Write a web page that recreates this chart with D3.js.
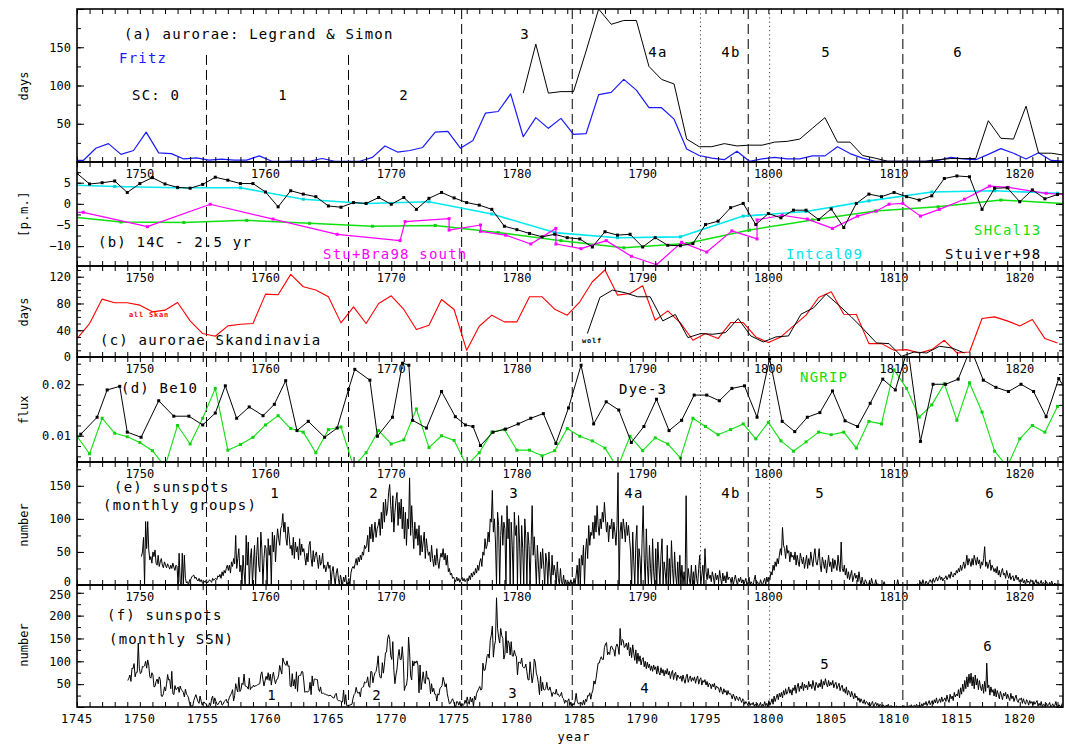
<!DOCTYPE html>
<html>
<head>
<meta charset="utf-8">
<script src="https://cdn.jsdelivr.net/npm/d3@7/dist/d3.min.js"></script>
<style>
  html, body { margin: 0; padding: 0; background: #fff; }
  svg { display: block; }
  text { font-family: "DejaVu Sans Mono", monospace; }
</style>
</head>
<body>
<svg id="chart" width="1065" height="745"></svg>
<script>
// ================= data =================

// (a) aurora days per year (plotted at mid-year)
const fritzStart = 1744;
const fritzDays = [2,2,18,24,10,15,39,12,11,4,5.5,2.5,3.7,2.4,2.4,8,1,1,1.5,1,4.6,1,1,1,6,21,13,15,19,39,40,18,28,64,66,89,33,58,44,57,36,37,88,91,108,94,71,71,56,17,8.5,5,3,14,1,4,6,4,4,8,8,20,11,5,1,1,1,1,1,2,6,4,3,10,17.5,11.5,4,12,2,1];
const legrandStart = 1780;
const legrandDays = [90,154,90,92,92,145,200,180,185,185,125,108,102,30,20,20,24,21,22,22,26,27,30,44,58,26,26,8.5,5,1,1,1,1,3,4.5,4.5,4.5,54,31,30,73,11.5,11.5,9];

// (b) 14C, per mille
const stuiverStart = 1745;
const stuiver98 = [7.2,4.7,5.0,5.4,2.7,4.8,6.2,4.7,3.9,3.7,4.6,6.3,5.6,4.8,4.8,2.8,-0.7,3.1,2.3,1.7,-0.5,-0.8,0.3,0.1,1.5,-0.1,1.5,-1.3,1.3,2.7,1.4,0.3,-0.3,-1.3,-5.3,-6.1,-7.0,-7.8,-7.2,-8.0,-8.3,-10.2,-6.6,-7.4,-7.2,-10.2,-8.0,-9.8,-9.9,-9.4,-4.9,-4.1,-0.9,0.1,-4.9,-2.3,-3.3,-1.5,-1.5,-3.7,-1.2,-5.6,0.1,2.3,1.7,2.7,1.7,0.9,1.9,6.0,6.6,6.4,-1.3,3.7,3.8,0.5,3.3,1.2,2.2];
const intcalYears = [1743,1748,1753,1758,1763,1768,1773,1778,1783,1788,1793,1798,1803,1808,1813,1818,1823];
const intcal09 = [4.6,4.1,3.8,3.8,1.1,0.1,0.5,-2.4,-6.8,-8.0,-7.8,-2.9,-1.8,0.7,2.8,3.1,2.5];
const shcalYears = [1743.5,1748.5,1753.5,1758.5,1763.5,1768.5,1773.5,1778.5,1783.5,1788.5,1793.5,1798.5,1803.5,1808.5,1813.5,1818.5,1823.5];
const shcal13 = [-2.8,-4.3,-4.4,-3.9,-4.6,-5.3,-5.1,-6.8,-8.7,-10.4,-9.4,-6.2,-3.8,-1.7,-0.7,0.9,0.1];
const stuBraYears = [1744.9,1745.5,1750.6,1755.6,1760.6,1765.7,1770.7,1771.1,1774.6,1774.6,1777.1,1777.1,1779.1,1781.1,1783.1,1783.1,1785.1,1787.1,1789.1,1791.1,1793.1,1795.1,1797.1,1799.1,1799.1,1801.1,1803.1,1805.1,1807.1,1808.6,1809.6,1810.7,1812.1,1813.6,1815.6,1817.6,1819.1,1822.1,1823.5];
const stuBraSouth = [-2.0,-2.0,-5.4,-0.1,-3.6,-7.2,-8.7,-4.2,-3.5,-6.2,-5.0,-6.5,-7.4,-9.5,-5.8,-9.5,-10.6,-8.7,-12.4,-14.4,-9.1,-11.4,-6.4,-8.3,-3.8,-2.7,-3.6,-5.8,-2.9,-1.7,-0.1,0.1,-2.9,-1.3,1.1,4.2,3.9,2.5,2.2];

// (c) aurora days in Scandinavia
const skanStart = 1745;
const allSkan = [27.5,50,86.5,81,81,77.5,67.5,70,81.5,54,35,31,46.5,49,50,94,93,123.5,105,100,90,51,75,50,80,91.5,71,41,47.5,86,71,10,46,62.5,52.5,52.5,90,90,71.5,62.5,82.5,112.5,130,92.5,95,106.5,55,69,51,25,35,27.5,51.5,51.5,30,21.5,30,46.5,62.5,89,97.5,64,63.5,20,20,10,11,6,11,25,6,7.5,57.5,60,54,46.5,56,27.5,21];
const wolfStart = 1785.6;
const wolfDays = [35,89,100,96,90,90,54,63.5,29,35,34,36.5,57.5,31.5,22.5,30,31.5,64,73.5,94,77.5,60,41,21,20,1,7.5,6,16,13.5,6];

// (d) Be10 flux
const dye3Years = [1745.3,1746.6,1747.4,1748.4,1749.0,1750.1,1751.5,1752.7,1753.9,1755.0,1756.0,1756.8,1757.7,1758.7,1759.8,1760.7,1761.6,1762.5,1763.4,1764.7,1765.7,1766.6,1767.1,1768.3,1768.9,1770.1,1770.9,1771.4,1771.7,1772.8,1774.0,1775.1,1775.9,1776.5,1777.1,1778.1,1779.1,1780.1,1781.1,1782.1,1783.1,1784.1,1785.1,1786.1,1787.1,1788.1,1789.1,1790.1,1791.1,1792.1,1793.1,1794.1,1795.1,1796.1,1797.1,1798.1,1799.1,1800.1,1801.1,1802.1,1803.1,1804.1,1805.1,1806.1,1807.1,1808.1,1809.1,1810.1,1811.1,1812.1,1813.1,1814.1,1815.1,1816.1,1817.1,1818.1,1819.1,1820.1,1821.1,1822.1,1823.1,1823.6];
const dye3Flux = [0.0103,0.0136,0.0189,0.0196,0.0107,0.0097,0.0168,0.0138,0.0138,0.0121,0.0144,0.0197,0.0134,0.0156,0.0139,0.0161,0.0207,0.0110,0.0128,0.0097,0.0115,0.0190,0.0229,0.0208,0.0099,0.0136,0.0241,0.0237,0.0130,0.0115,0.0186,0.0137,0.0121,0.0118,0.0081,0.0107,0.0113,0.0123,0.0134,0.0143,0.0085,0.0154,0.0237,0.0123,0.0166,0.0150,0.0087,0.0118,0.0171,0.0110,0.0130,0.0179,0.0179,0.0168,0.0192,0.0197,0.0136,0.0250,0.0128,0.0108,0.0136,0.0145,0.0187,0.0129,0.0118,0.0163,0.0210,0.0189,0.0270,0.0089,0.0200,0.0200,0.0210,0.0270,0.0208,0.0194,0.0186,0.0200,0.0186,0.0137,0.0211,0.0192];
const ngripStart = 1745;
const ngripFlux = [0.0099,0.0065,0.0134,0.0105,0.0098,0.0087,0.0071,0.0040,0.0120,0.0084,0.0134,0.0192,0.0072,0.0083,0.0097,0.0121,0.0139,0.0114,0.0107,0.0067,0.0112,0.0117,0.0040,0.0067,0.0110,0.0084,0.0092,0.0152,0.0077,0.0100,0.0091,0.0042,0.0067,0.0107,0.0112,0.0072,0.0072,0.0061,0.0071,0.0114,0.0099,0.0090,0.0076,0.0038,0.0099,0.0071,0.0096,0.0084,0.0057,0.0134,0.0118,0.0102,0.0112,0.0123,0.0094,0.0126,0.0090,0.0070,0.0088,0.0107,0.0102,0.0107,0.0076,0.0128,0.0123,0.0228,0.0192,0.0136,0.0160,0.0201,0.0130,0.0203,0.0146,0.0070,0.0040,0.0094,0.0120,0.0107,0.0157];

// (e) monthly sunspot groups, one row per year from 1750
const groupsStart = 1750;
const groupsMonthly = [
[null,43,50,72,0,96,55,96,53,38,43,33],
[50,43,53,33,30,45,28,35,40,30,26,35],
[30,26,32,28,24,30,25,33,27,22,30,28],
[0,48,5,0,48,0,45,10,3,5,0,8],
[8,12,14,15,10,12,8,6,10,5,8,4],
[2,6,4,8,3,5,8,6,4,10,7,9],
[10,8,14,12,16,10,20,14,22,18,25,30],
[22,30,18,35,28,40,32,75,25,40,55,20],
[30,0,45,20,0,75,30,65,0,40,55,0],
[35,60,0,45,72,30,20,80,55,0,40,60],
[55,0,70,45,60,0,80,50,75,35,65,85],
[70,60,85,90,108,80,95,70,60,88,75,55],
[60,45,72,40,65,50,58,38,70,45,62,50],
[55,42,30,48,35,60,66,40,28,52,35,45],
[50,38,25,45,30,35,48,25,30,20,28,35],
[25,30,0,20,28,12,0,18,25,10,0,15],
[8,0,12,5,15,0,3,10,0,18,25,28],
[25,32,40,30,42,35,45,38,50,45,60,55],
[60,75,50,88,70,92,65,80,95,72,85,90],
[100,75,110,85,125,95,130,105,115,140,152,120],
[95,135,80,110,128,140,90,125,100,130,85,118],
[70,110,60,100,85,162,75,120,85,55,95,70],
[85,60,90,45,75,50,65,80,40,70,55,45],
[50,35,60,40,28,45,30,55,35,25,40,48],
[42,55,38,48,30,45,20,25,15,18,10,12],
[8,5,12,6,10,4,8,12,6,10,5,8],
[10,6,14,8,18,12,20,15,25,18,30,22],
[35,40,28,50,45,70,55,60,80,65,100,95],
[143,80,100,65,0,110,90,0,75,105,60,95],
[85,0,120,70,100,0,95,60,0,110,75,90],
[0,105,65,0,90,55,0,100,70,0,80,60],
[0,60,120,45,73,40,0,60,30,0,50,25],
[55,30,0,48,35,0,50,20,0,45,15,30],
[20,0,35,10,0,25,5,0,15,0,8,0],
[0,5,0,8,0,0,10,0,15,30,0,40],
[0,45,30,60,0,50,70,40,90,60,80,75],
[95,70,105,80,120,90,75,100,85,110,95,125],
[100,80,95,65,90,85,100,70,95,80,60,90],
[170,0,80,95,70,100,85,65,95,75,90,70],
[50,0,80,35,0,65,90,0,55,40,0,70],
[120,40,0,85,30,0,60,25,0,70,20,0],
[55,0,65,30,0,45,70,0,35,20,0,60],
[0,40,0,67,25,0,50,15,0,35,0,45],
[0,30,0,20,0,135,0,25,10,0,30,0],
[20,0,30,10,0,25,45,0,15,30,0,55],
[20,8,25,10,15,5,20,12,0,18,8,15],
[5,22,10,0,18,6,14,3,20,8,12,10],
[4,12,0,8,15,6,0,10,5,12,3,8],
[0,5,10,0,3,12,0,5,2,0,8,15],
[0,5,2,0,8,3,0,6,10,0,12,5],
[12,8,20,15,30,22,35,28,40,32,45,55],
[45,87,60,55,40,60,48,52,35,50,42,45],
[38,50,30,45,35,28,48,40,32,42,25,35],
[45,25,40,30,50,38,28,45,55,35,30,40],
[55,30,20,42,35,25,38,18,30,45,28,35],
[20,40,25,38,30,22,45,30,20,65,25,20],
[30,15,25,10,20,8,15,22,5,12,18,10],
[15,5,20,8,0,12,3,0,8,5,0,0],
[5,0,10,3,0,0,8,0,2,0,0,0],
[0,0,5,0,0,0,0,0,0,0,0,0],
[0,0,0,8,0,0,0,0,0,0,0,0],
[0,0,0,0,0,0,0,0,0,0,2,0],
[0,5,0,8,2,0,6,3,0,5,8,4],
[6,10,4,8,12,6,10,14,8,12,6,10],
[10,14,8,12,16,10,20,14,12,18,15,22],
[18,25,20,30,22,28,35,25,32,45,30,40],
[35,28,40,30,45,38,30,42,32,38,25,35],
[30,40,58,28,35,25,32,38,22,30,26,20],
[25,18,28,15,22,12,20,25,15,18,10,22],
[15,10,18,8,12,14,6,10,15,8,12,5],
[8,5,10,3,7,0,9,4,6,2,8,5],
[6,0,4,8,2,5,0,3,7,0,4,2],
[0,5,2,0,4,0,6,1,0,3,0,2],
[0,2,0,1,0]
];

// (f) monthly sunspot number, one row per year from 1749
const ssnStart = 1749;
const ssnMonthly = [
[58,63,70,56,85,84,95,66,76,76,140,85],
[73,76,89,88,90,100,85,103,91,66,63,75],
[70,44,45,56,61,51,66,60,24,23,29,44],
[35,50,71,59,60,40,78,29,27,47,38,40],
[44,32,46,38,36,32,22,39,28,25,20,7],
[0,3,2,14,21,27,19,12,8,24,13,4],
[10,11,7,7,0,0,9,3,18,24,7,20],
[13,7,5,9,13,13,4,6,12,14,17,9],
[14,21,26,30,38,13,25,51,40,33,65,34],
[38,52,49,72,46,45,44,39,63,38,43,43],
[48,44,47,47,49,50,51,71,77,60,46,57],
[67,60,75,58,72,48,66,76,61,51,60,61],
[70,91,81,72,107,99,94,91,101,89,90,46],
[44,73,46,60,40,77,34,68,69,69,78,77],
[57,32,34,33,33,36,54,27,68,46,61,61],
[60,60,40,34,44,30,30,30,28,28,26,26],
[24,26,25,22,20,20,27,30,16,14,14,13],
[12,11,37,6,27,3,3,4,4,5,6,19],
[27,30,43,33,30,33,22,41,43,44,55,53],
[54,66,46,43,78,77,53,67,75,78,91,112],
[74,64,64,97,74,94,119,120,149,158,148,112],
[104,143,80,51,70,83,110,126,104,104,132,102],
[36,46,47,65,153,120,68,59,101,90,100,96],
[101,91,31,92,38,57,77,56,51,79,61,64],
[55,29,51,33,41,28,28,13,29,26,41,43],
[47,65,56,44,51,29,18,7,8,14,18,12],
[4,0,12,11,4,12,1,8,3,6,15,8],
[22,12,6,22,11,19,1,24,16,30,35,40],
[45,37,39,96,80,81,95,112,116,107,146,157],
[177,109,134,145,239,172,153,140,172,156,150,105],
[115,166,118,145,140,114,143,112,111,124,114,110],
[70,98,98,95,107,88,86,86,94,77,60,59],
[99,75,53,68,105,98,74,66,51,27,67,35],
[54,38,37,41,54,38,37,44,34,23,32,30],
[28,39,27,28,23,25,32,20,18,8,15,11],
[13,18,3,11,2,8,4,13,30,13,7,8],
[9,10,4,15,5,17,12,25,24,31,17,30],
[37,57,50,62,79,96,96,104,110,104,104,130],
[138,141,114,120,115,132,133,126,125,111,132,138],
[131,115,172,135,148,145,130,133,140,125,141,112],
[130,108,136,118,102,125,95,118,100,112,92,104],
[108,88,100,84,98,86,94,80,90,78,92,82],
[88,72,90,76,70,86,74,82,68,80,72,84],
[70,78,62,74,80,60,72,76,58,70,66,62],
[68,56,70,60,52,66,72,54,62,68,56,64],
[58,66,52,62,68,50,60,64,48,58,54,60],
[48,56,44,52,50,40,50,44,52,38,46,42],
[42,32,44,36,28,40,32,36,26,36,28,30],
[26,18,28,22,14,24,18,14,22,16,10,18],
[14,6,12,8,4,12,3,8,5,10,2,6],
[3,8,0,4,10,0,6,2,12,3,8,0],
[14,4,10,18,6,24,12,20,28,16,30,22],
[32,20,36,26,40,28,34,44,30,38,26,42],
[36,48,30,44,52,34,46,40,54,36,50,42],
[48,38,56,44,50,40,58,46,36,54,48,42],
[52,44,60,40,56,48,62,50,44,58,46,54],
[48,58,42,50,54,40,46,52,36,44,48,34],
[40,30,44,26,36,32,22,34,26,18,30,20],
[24,14,20,10,18,12,8,16,6,12,10,4],
[10,2,8,12,0,6,10,3,8,0,6,4],
[0,5,2,0,4,1,6,0,2,3,0,1],
[0,0,2,0,0,1,0,0,0,3,0,0],
[1,0,3,0,5,0,2,4,0,6,1,3],
[4,0,7,2,9,5,12,3,8,14,5,10],
[14,6,16,9,20,8,12,18,10,22,12,16],
[20,12,26,16,10,28,18,24,14,32,22,28],
[24,38,20,42,28,50,34,58,40,66,44,72],
[52,74,46,66,40,70,48,62,38,58,44,36],
[50,30,56,34,96,42,48,26,44,32,38,24],
[40,22,36,28,18,34,26,16,30,24,32,18],
[28,20,14,30,18,24,12,20,26,14,10,18],
[16,20,8,18,10,6,16,12,4,14,8,12],
[4,12,6,10,14,2,8,3,12,0,6,5],
[0,8,2,5,10,0,3,7,0,4,12,1],
[0,5,2,0,8]
];

// cycle boundaries (dashed) and the extra markers around the lost cycle (dotted)
const cycleMinima = [1755.3, 1766.6, 1775.6, 1784.4, 1798.4, 1810.7];
const dottedMarks = [1794.6, 1800.1];

// tick labels
const yearLabelsInner = [1750, 1760, 1770, 1780, 1790, 1800, 1810, 1820];
const yearLabelsBottom = [1745,1750,1755,1760,1765,1770,1775,1780,1785,1790,1795,1800,1805,1810,1815,1820];
const ticksA = [50, 100, 150];
const ticksB = [-10, -5, 0, 5];
const ticksC = [0, 40, 80, 120];
const ticksD = [0.01, 0.02];
const ticksE = [0, 50, 100, 150];
const ticksF = [50, 100, 150, 200, 250];

// ================= drawing =================
const X0 = 77, X1 = 1063;
const x = d3.scaleLinear().domain([1745, 1823.44]).range([X0, X1]);
const svg = d3.select("#chart");
const defs = svg.append("defs");

const panelSpecs = {
  a: {top: 9,   bottom: 162, domain: [0, 200],          minor: 25,    major: 50,   labels: ticksA, fmt: d3.format("d"),  years: false},
  b: {top: 162, bottom: 266, domain: [-14.7, 9.9],      minor: 2.5,   major: 5,    labels: ticksB, fmt: d3.format("d"),  years: true},
  c: {top: 266, bottom: 357, domain: [0, 136],          minor: 10,    major: 40,   labels: ticksC, fmt: d3.format("d"),  years: true},
  d: {top: 357, bottom: 462, domain: [0.0049, 0.0253],  minor: 0.002, major: 0.01, labels: ticksD, fmt: d3.format(".2f"), years: true},
  e: {top: 462, bottom: 585, domain: [0, 186],          minor: 25,    major: 50,   labels: ticksE, fmt: d3.format("d"),  years: true},
  f: {top: 585, bottom: 707, domain: [0, 267],          minor: 25,    major: 50,   labels: ticksF, fmt: d3.format("d"),  years: true}
};

function stepValues(domain, step) {
  const out = [];
  const i0 = Math.ceil(domain[0] / step - 1e-9), i1 = Math.floor(domain[1] / step + 1e-9);
  for (let i = i0; i <= i1; i++) out.push(+(i * step).toFixed(6));
  return out;
}

const yearTicks = d3.range(1745, 1824);
const panels = {};

Object.entries(panelSpecs).forEach(([key, s]) => {
  const y = d3.scaleLinear().domain(s.domain).range([s.bottom, s.top]);
  const g = svg.append("g").attr("class", "panel-" + key);
  defs.append("clipPath").attr("id", "clip-" + key).append("rect")
    .attr("x", X0).attr("y", s.top).attr("width", X1 - X0).attr("height", s.bottom - s.top);
  const plot = g.append("g").attr("clip-path", `url(#clip-${key})`);
  panels[key] = {y, g, plot, s};

  // inward year ticks on top and bottom edges
  const tickStyle = sel => { sel.select(".domain").remove(); sel.selectAll("line").attr("stroke", "#000").attr("stroke-width", 1); };
  g.append("g").attr("transform", `translate(0,${s.top})`)
    .call(d3.axisBottom(x).tickValues(yearTicks).tickSize(5).tickFormat("")).call(tickStyle);
  g.append("g").attr("transform", `translate(0,${s.bottom})`)
    .call(d3.axisTop(x).tickValues(yearTicks).tickSize(5).tickFormat("")).call(tickStyle);

  // inward value ticks on left and right edges
  const minorV = stepValues(s.domain, s.minor), majorV = stepValues(s.domain, s.major);
  g.append("g").attr("transform", `translate(${X0},0)`)
    .call(d3.axisRight(y).tickValues(minorV).tickSize(4).tickFormat("")).call(tickStyle);
  g.append("g").attr("transform", `translate(${X0},0)`)
    .call(d3.axisRight(y).tickValues(majorV).tickSize(7).tickFormat("")).call(tickStyle);
  g.append("g").attr("transform", `translate(${X1},0)`)
    .call(d3.axisLeft(y).tickValues(minorV).tickSize(4).tickFormat("")).call(tickStyle);
  g.append("g").attr("transform", `translate(${X1},0)`)
    .call(d3.axisLeft(y).tickValues(majorV).tickSize(7).tickFormat("")).call(tickStyle);

  // value labels (the labels at a shared panel edge are nudged apart)
  const nudge = d => (key === "e" && d === 0) ? -3 : (key === "f" && d === 250) ? 2 : 0;
  g.selectAll("text.ylab").data(s.labels).join("text")
    .attr("x", 71).attr("y", d => y(d) + nudge(d)).attr("dy", "0.36em")
    .attr("text-anchor", "end").attr("font-size", 12).attr("fill", "#000")
    .text(d => s.fmt(d));

  // year labels inside the panel
  if (s.years) {
    g.selectAll("text.xin").data(yearLabelsInner).join("text")
      .attr("x", d => x(d)).attr("y", s.top + 16)
      .attr("text-anchor", "middle").attr("font-size", 12).attr("fill", "#000")
      .text(d => d);
  }

  // cycle-boundary lines
  plot.selectAll("line.cyc").data(cycleMinima).join("line")
    .attr("x1", d => x(d)).attr("x2", d => x(d))
    .attr("y1", (d, i) => (key === "a" && i < 2) ? y(140) : s.top)
    .attr("y2", s.bottom)
    .attr("stroke", "#000").attr("stroke-width", 1).attr("stroke-dasharray", "10,5");
  plot.selectAll("line.dot").data(key === "f" ? [dottedMarks[1]] : dottedMarks).join("line")
    .attr("x1", d => x(d)).attr("x2", d => x(d))
    .attr("y1", s.top).attr("y2", s.bottom)
    .attr("stroke", "#444").attr("stroke-width", 1).attr("stroke-dasharray", "1.2,3");
});

function series(startYear, values, offset) {
  return values.map((v, i) => [startYear + i + (offset || 0), v]);
}
function pairs(xs, ys) { return xs.map((v, i) => [v, ys[i]]); }
function monthly(startYear, rows) {
  const out = [];
  rows.forEach((row, r) => row.forEach((v, m) => out.push([startYear + r + (m + 0.5) / 12, v])));
  return out;
}

function drawLine(key, data, color, width) {
  const p = panels[key];
  const line = d3.line().defined(d => d[1] != null).x(d => x(d[0])).y(d => p.y(d[1]));
  p.plot.append("path").datum(data).attr("d", line)
    .attr("fill", "none").attr("stroke", color).attr("stroke-width", width || 1)
    .attr("stroke-linejoin", "round");
}
function drawDots(key, data, color, size) {
  const p = panels[key], s = size || 3;
  p.plot.append("g").selectAll("rect").data(data).join("rect")
    .attr("x", d => x(d[0]) - s / 2).attr("y", d => p.y(d[1]) - s / 2)
    .attr("width", s).attr("height", s).attr("fill", color);
}

// (a)
drawLine("a", series(fritzStart, fritzDays, 0.5), "#1a1aff", 1.2);
drawLine("a", series(legrandStart, legrandDays, 0.5), "#000", 1);

// (b)
const cyanPts = pairs(intcalYears, intcal09);
const greenPts = pairs(shcalYears, shcal13);
const magPts = pairs(stuBraYears, stuBraSouth);
const stuPts = series(stuiverStart, stuiver98, 0);
drawLine("b", cyanPts, "#00e8f0", 1.6); drawDots("b", cyanPts, "#00d0e0", 3);
drawLine("b", greenPts, "#10e010", 1.5); drawDots("b", greenPts, "#10d010", 3);
drawLine("b", magPts, "#ff00ff", 1.2); drawDots("b", magPts, "#ff00ff", 3);
drawLine("b", stuPts, "#000", 1); drawDots("b", stuPts, "#000", 3);

// (c)
drawLine("c", series(skanStart, allSkan, 0), "#ff0000", 1.1);
drawLine("c", series(wolfStart, wolfDays, 0), "#000", 1);

// (d)
const ngPts = series(ngripStart, ngripFlux, 0);
const dyePts = pairs(dye3Years, dye3Flux);
drawLine("d", ngPts, "#10e010", 1.1); drawDots("d", ngPts, "#10d010", 3);
drawLine("d", dyePts, "#000", 1); drawDots("d", dyePts, "#000", 3);

// (e), (f)
drawLine("e", monthly(groupsStart, groupsMonthly), "#000", 1);
drawLine("f", monthly(ssnStart, ssnMonthly), "#000", 1);

// panel frames
Object.values(panels).forEach(p => {
  p.g.append("rect").attr("x", X0).attr("y", p.s.top)
    .attr("width", X1 - X0).attr("height", p.s.bottom - p.s.top)
    .attr("fill", "none").attr("stroke", "#000").attr("stroke-width", 1.6);
});

// ---------- text ----------
function txt(str, px, py, opt) {
  opt = opt || {};
  return svg.append("text").attr("x", px).attr("y", py)
    .attr("font-size", opt.size || 14)
    .attr("letter-spacing", opt.ls != null ? opt.ls : 1.2)
    .attr("text-anchor", opt.anchor || "start")
    .attr("font-weight", opt.weight || "normal")
    .attr("fill", opt.color || "#000").text(str);
}
function ytitle(str, cy) {
  svg.append("text").attr("transform", `translate(28,${cy}) rotate(-90)`)
    .attr("text-anchor", "middle").attr("font-size", 12).attr("fill", "#000").text(str);
}

// (a)
txt("(a) aurorae: Legrand & Simon", 124, 39);
txt("Fritz", 119, 63, {color: "#1a1aff"});
txt("SC: 0", 132, 100);
txt("1", 283, 100, {anchor: "middle"});
txt("2", 404, 100, {anchor: "middle"});
txt("3", 525, 39, {anchor: "middle"});
txt("4a", 658, 57, {anchor: "middle"});
txt("4b", 731, 57, {anchor: "middle"});
txt("5", 826, 57, {anchor: "middle"});
txt("6", 958, 57, {anchor: "middle"});
// (b)
txt("(b) 14C - 2.5 yr", 98, 247);
txt("Stu+Bra98 south", 323, 259, {color: "#ff00ff"});
txt("Intcal09", 786, 259, {color: "#00e0f0"});
txt("Stuiver+98", 945, 259);
txt("SHCal13", 974, 235, {color: "#10e010"});
// (c)
txt("(c) aurorae Skandinavia", 100, 345);
txt("all Skan", 129, 317, {size: 7, ls: 0.8, color: "#ff0000", weight: "bold"});
txt("wolf", 582, 343, {size: 7, ls: 0.8, weight: "bold"});
// (d)
txt("(d) Be10", 121, 393);
txt("Dye-3", 619, 394);
txt("NGRIP", 800, 382, {color: "#10e010"});
// (e)
txt("(e) sunspots", 114, 492);
txt("(monthly groups)", 103, 510);
[["1",275],["2",374],["3",514],["4a",634],["4b",731],["5",820],["6",990]]
  .forEach(([t, cx]) => txt(t, cx, 498, {anchor: "middle"}));
// (f)
txt("(f) sunspots", 107, 620);
txt("(monthly SSN)", 109, 644);
[["1",272,700],["2",377,700],["3",513,698],["4",645,693],["5",825,669],["6",988,651]]
  .forEach(([t, cx, by]) => txt(t, cx, by, {anchor: "middle"}));

// axis titles
ytitle("days", 86);
svg.append("text").attr("transform", "translate(28,214) rotate(-90)")
  .attr("text-anchor", "middle").attr("font-size", 12).attr("letter-spacing", 0.4).text("[p.m.]");
ytitle("days", 312);
ytitle("flux", 410);
ytitle("number", 525);
ytitle("number", 645);

// bottom year axis labels
svg.append("g").selectAll("text").data(yearLabelsBottom).join("text")
  .attr("x", d => x(d)).attr("y", 723).attr("text-anchor", "middle")
  .attr("font-size", 12).attr("letter-spacing", 0.8).text(d => d);
svg.append("text").attr("x", 574).attr("y", 741).attr("text-anchor", "middle")
  .attr("font-size", 12).attr("letter-spacing", 1).text("year");
</script>
</body>
</html>
